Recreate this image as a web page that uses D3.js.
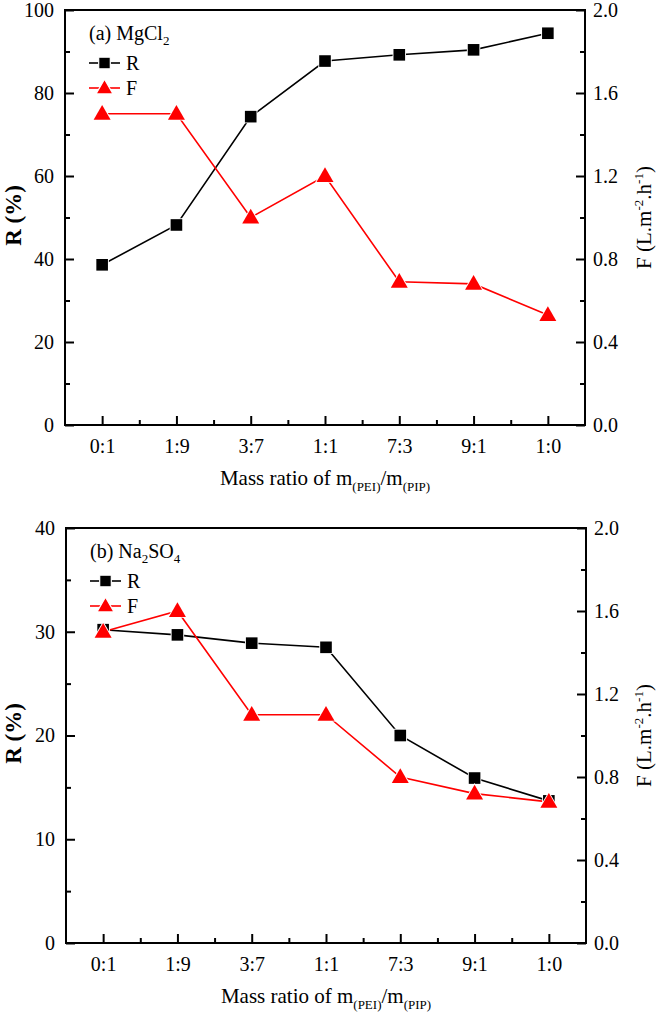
<!DOCTYPE html>
<html><head><meta charset="utf-8">
<script src="https://cdn.jsdelivr.net/npm/d3@7"></script>
<style>
html,body{margin:0;padding:0;background:#fff;}
svg{display:block;}
svg text{font-family:"Liberation Serif","Times New Roman",serif !important;fill:#000;}
</style></head>
<body>
<svg id="chart" width="661" height="1017" font-family="Liberation Serif"></svg>
<script>
const categories = ["0:1","1:9","3:7","1:1","7:3","9:1","1:0"];
const rTicksA = [0,20,40,60,80,100];
const rTicksB = [0,10,20,30,40];
const fTicks = [0.0,0.4,0.8,1.2,1.6,2.0];

const rMgCl2 = [38.6,48.2,74.3,87.7,89.2,90.4,94.4];
const fMgCl2 = [1.50,1.50,1.00,1.20,0.69,0.68,0.53];
const rNa2SO4 = [30.2,29.7,28.9,28.5,20.0,15.9,13.7];
const fNa2SO4 = [1.50,1.60,1.10,1.10,0.80,0.72,0.68];

const svg = d3.select("#chart");
const RED = "#ff0000";

function panel(cfg){
  const {left,right,top,bottom,rMax,rMajor,rMinor,rVals,fVals,label,sub1,label2,sub2} = cfg;
  const g = svg.append("g");
  const x = d3.scaleLinear().domain([0.5,7.5]).range([left,right]);
  const yR = d3.scaleLinear().domain([0,rMax]).range([bottom,top]);
  const yF = d3.scaleLinear().domain([0,2.0]).range([bottom,top]);
  const idx = categories.map((c,i)=>i+1);

  g.append("rect").attr("x",left).attr("y",top).attr("width",right-left).attr("height",bottom-top)
    .attr("fill","none").attr("stroke","#000").attr("stroke-width",2);

  function style(sel){
    sel.attr("font-family",null).attr("font-size",null);
    sel.select(".domain").remove();
    sel.selectAll("line").attr("stroke","#000").attr("stroke-width",2);
    sel.selectAll("text").style("font-size","20px");
  }
  const xb = g.append("g").attr("transform",`translate(0,${bottom})`)
    .call(d3.axisBottom(x).tickValues(idx).tickSize(-9).tickPadding(14).tickFormat(d=>categories[d-1]));
  style(xb);
  const xm = g.append("g").attr("transform",`translate(0,${bottom})`)
    .call(d3.axisBottom(x).tickValues(d3.range(1.5,7,1)).tickSize(-5).tickFormat(""));
  style(xm);
  const yl = g.append("g").attr("transform",`translate(${left},0)`)
    .call(d3.axisLeft(yR).tickValues(rMajor).tickSize(-9).tickPadding(11).tickFormat(d3.format("d")));
  style(yl);
  const ylm = g.append("g").attr("transform",`translate(${left},0)`)
    .call(d3.axisLeft(yR).tickValues(rMinor).tickSize(-5).tickFormat(""));
  style(ylm);
  const yr = g.append("g").attr("transform",`translate(${right},0)`)
    .call(d3.axisRight(yF).tickValues(fTicks).tickSize(-9).tickPadding(8).tickFormat(d3.format(".1f")));
  style(yr);
  const yrm = g.append("g").attr("transform",`translate(${right},0)`)
    .call(d3.axisRight(yF).tickValues([0.2,0.6,1.0,1.4,1.8]).tickSize(-5).tickFormat(""));
  style(yrm);

  const lineR = d3.line().x((d,i)=>x(i+1)).y(d=>yR(d));
  const lineF = d3.line().x((d,i)=>x(i+1)).y(d=>yF(d));
  g.append("path").attr("d",lineR(rVals)).attr("fill","none").attr("stroke","#000").attr("stroke-width",1.6);
  g.append("path").attr("d",lineF(fVals)).attr("fill","none").attr("stroke",RED).attr("stroke-width",1.6);

  const sq = d3.symbol().type(d3.symbolSquare).size(135);
  const tri = d3.symbol().type(d3.symbolTriangle).size(125);
  g.selectAll(".mr").data(rVals).join("path")
    .attr("transform",(d,i)=>`translate(${x(i+1)},${yR(d)})`).attr("d",sq)
    .attr("fill","#000").attr("stroke","#fff").attr("stroke-width",1.8).attr("paint-order","stroke");
  g.selectAll(".mf").data(fVals).join("path")
    .attr("transform",(d,i)=>`translate(${x(i+1)},${yF(d)+1})`).attr("d",tri)
    .attr("fill",RED).attr("stroke","#fff").attr("stroke-width",1.8).attr("paint-order","stroke");

  const lx = left+24;
  const t0 = g.append("text").attr("x",lx).attr("y",top+30).style("font-size","20px");
  t0.append("tspan").text(label);
  t0.append("tspan").attr("dy",5).style("font-size","13px").text(sub1);
  if(label2){
    t0.append("tspan").attr("dy",-5).text(label2);
    t0.append("tspan").attr("dy",5).style("font-size","13px").text(sub2);
  }
  const rows = [{t:"R",c:"#000",s:sq,y:top+53},{t:"F",c:RED,s:tri,y:top+78}];
  rows.forEach(r=>{
    g.append("line").attr("x1",lx).attr("x2",lx+31).attr("y1",r.y).attr("y2",r.y)
      .attr("stroke",r.c).attr("stroke-width",1.6);
    g.append("path").attr("d",r.s).attr("transform",`translate(${lx+15.5},${r.y + (r.t==="F"?1:0)})`)
      .attr("fill",r.c).attr("stroke","#fff").attr("stroke-width",1.2);
    g.append("text").attr("x",lx+37).attr("y",r.y+7).style("font-size","20px").text(r.t);
  });

  const cx = (left+right)/2;
  const xt = g.append("text").attr("x",cx).attr("y",bottom+60).attr("text-anchor","middle").style("font-size","21px");
  xt.append("tspan").text("Mass ratio of m");
  xt.append("tspan").attr("dy",6).style("font-size","13px").text("(PEI)");
  xt.append("tspan").attr("dy",-6).text("/m");
  xt.append("tspan").attr("dy",6).style("font-size","13px").text("(PIP)");

  const cy = (top+bottom)/2;
  g.append("text").attr("transform",`translate(21,${cy-2}) rotate(-90)`).attr("text-anchor","middle")
    .style("font-size","23px").style("font-weight","bold").text("R (%)");
  const ft = g.append("text").attr("transform",`translate(651,${cy}) rotate(-90)`).attr("text-anchor","middle")
    .style("font-size","21px");
  ft.append("tspan").text("F (L.m");
  ft.append("tspan").attr("dy",-8).style("font-size","13px").text("-2");
  ft.append("tspan").attr("dy",8).text(".h");
  ft.append("tspan").attr("dy",-8).style("font-size","13px").text("-1");
  ft.append("tspan").attr("dy",8).text(")");
}

panel({left:65,right:585,top:10,bottom:425,rMax:100,rMajor:rTicksA,rMinor:[10,30,50,70,90],
  rVals:rMgCl2,fVals:fMgCl2,label:"(a) MgCl",sub1:"2"});
panel({left:66,right:586,top:528,bottom:943,rMax:40,rMajor:rTicksB,rMinor:[5,15,25,35],
  rVals:rNa2SO4,fVals:fNa2SO4,label:"(b) Na",sub1:"2",label2:"SO",sub2:"4"});
</script>
</body></html>
